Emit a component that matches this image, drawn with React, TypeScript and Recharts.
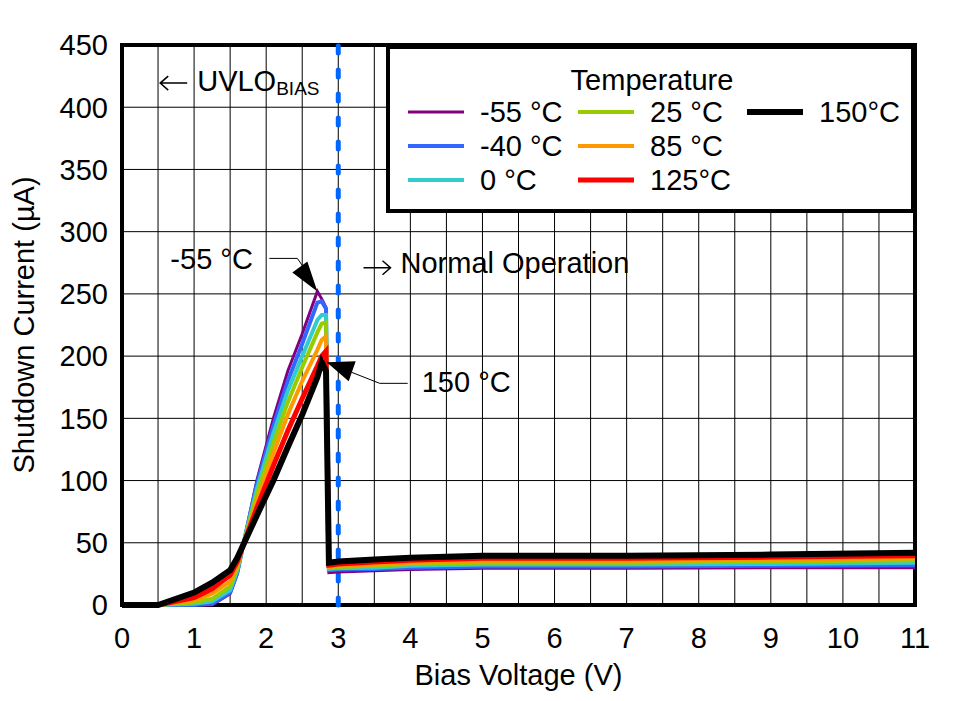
import {
  CartesianGrid,
  Legend,
  Line,
  LineChart,
  ReferenceArea,
  ReferenceDot,
  ReferenceLine,
  XAxis,
  YAxis,
} from "recharts";

// bias voltage (V) sample points shared by all curves
const voltage = [0, 0.5, 1.0, 1.25, 1.5, 1.6, 1.68, 1.87, 2.1, 2.3, 2.5, 2.71, 2.77, 2.83, 2.87, 3, 3.5, 4, 5, 7, 9, 11];

// shutdown current (uA) per temperature
const iM55 = [0, 0, 0, 0, 9, 25, 48, 100, 150, 188, 218, 252, 246, 239, 26, 26.5, 27.5, 28.5, 29.5, 29.5, 30, 30];
const iM40 = [0, 0, 0, 1, 10, 26, 48, 97, 144, 180, 210, 243, 244, 238, 28, 28.5, 29, 30, 31, 31, 31.5, 32];
const i0 = [0, 0, 1, 3, 12, 28, 48, 93, 138, 172, 200, 229, 233, 233, 29, 29.5, 30, 31.5, 32.5, 32.5, 33, 34];
const i25 = [0, 0, 2, 5, 15, 30, 48, 89, 130, 163, 191, 219, 226, 227, 30, 30.5, 31.5, 33, 34, 34, 35, 36];
const i85 = [0, 0, 4, 9, 19, 32, 48, 83, 122, 153, 180, 205, 213, 216, 30.5, 31.5, 32.5, 34, 35.5, 35.5, 36.5, 37.5];
const i125 = [0, 0, 6, 13, 24, 35, 48, 78, 112, 140, 166, 192, 200, 204, 32, 33, 34.5, 36, 37.5, 37.5, 38.5, 39.5];
const i150 = [0, 0, 10, 18, 28, 38, 48, 72, 100, 127, 153, 183, 195, 188, 34, 35, 36.5, 38, 39.5, 39.5, 40.5, 42];

const xTicks = [0, 0.5, 1, 1.5, 2, 2.5, 3, 3.5, 4, 4.5, 5, 5.5, 6, 6.5, 7, 7.5, 8, 8.5, 9, 9.5, 10, 10.5, 11];
const yTicks = [0, 50, 100, 150, 200, 250, 300, 350, 400, 450];

const series = [
  { key: "m55", name: "-55 °C", color: "#800080", width: 3, values: iM55 },
  { key: "m40", name: "-40 °C", color: "#3366FF", width: 4, values: iM40 },
  { key: "t0", name: "0 °C", color: "#33CCCC", width: 4, values: i0 },
  { key: "t25", name: "25 °C", color: "#99CC00", width: 4, values: i25 },
  { key: "t85", name: "85 °C", color: "#FF9900", width: 4, values: i85 },
  { key: "t125", name: "125°C", color: "#FF0000", width: 5, values: i125 },
  { key: "t150", name: "150°C", color: "#000000", width: 6, values: i150 },
];

const data = voltage.map((v, i) => {
  const row: Record<string, number> = { v };
  series.forEach((s) => (row[s.key] = s.values[i]));
  return row;
});

const FONT = "'Liberation Sans', Arial, sans-serif";
const FS = 29;

function TempLegend() {
  const cols = [22, 192, 361];
  const rows = [67, 101, 135];
  return (
    <svg width={529} height={168} style={{ display: "block" }}>
      <rect x={2} y={2} width={525} height={164} fill="#fff" stroke="#000" strokeWidth={4} />
      <text x={266} y={45} textAnchor="middle" fontSize={FS} fill="#000">
        Temperature
      </text>
      {series.map((s, i) => {
        const x = cols[Math.floor(i / 3)];
        const y = rows[i % 3];
        return (
          <g key={s.key}>
            <line x1={x} x2={x + 56} y1={y} y2={y} stroke={s.color} strokeWidth={s.width} />
            <text x={x + 72} y={y + 10} fontSize={FS} fill="#000">
              {s.name}
            </text>
          </g>
        );
      })}
    </svg>
  );
}

const Arrow55 = ({ cx, cy }: any) => (
  <g>
    <polyline
      points={`${cx - 48},${cy - 33} ${cx - 20},${cy - 33} ${cx - 13},${cy - 23}`}
      fill="none"
      stroke="#000"
      strokeWidth={1}
    />
    <polygon points={`${cx},${cy} ${cx - 25},${cy - 19} ${cx - 10},${cy - 30}`} fill="#000" />
    <text x={cx - 147} y={cy - 22} fontSize={FS} fill="#000">
      -55 °C
    </text>
  </g>
);

const Arrow150 = ({ cx, cy }: any) => (
  <g>
    <polyline
      points={`${cx + 30},${cy + 10} ${cx + 58},${cy + 21} ${cx + 86},${cy + 21}`}
      fill="none"
      stroke="#000"
      strokeWidth={1}
    />
    <polygon points={`${cx + 5},${cy} ${cx + 34},${cy - 1} ${cx + 27},${cy + 19}`} fill="#000" />
    <text x={cx + 100} y={cy + 30} fontSize={FS} fill="#000">
      150 °C
    </text>
  </g>
);

const UvloNote = ({ cx, cy }: any) => (
  <g>
    <path
      d={`M${cx + 27},${cy + 2} H${cx} M${cx + 8},${cy - 5} L${cx},${cy + 2} L${cx + 8},${cy + 9}`}
      fill="none"
      stroke="#000"
      strokeWidth={1.5}
    />
    <text x={cx + 37} y={cy + 10} fontSize={FS} fill="#000">
      UVLO
      <tspan fontSize={19} dy={4}>
        BIAS
      </tspan>
    </text>
  </g>
);

const NormalNote = ({ cx, cy }: any) => (
  <g>
    <path
      d={`M${cx},${cy + 5} H${cx + 27} M${cx + 19},${cy - 2} L${cx + 27},${cy + 5} L${cx + 19},${cy + 12}`}
      fill="none"
      stroke="#000"
      strokeWidth={1.5}
    />
    <text x={cx + 37} y={cy + 10} fontSize={FS} fill="#000">
      Normal Operation
    </text>
  </g>
);

export default function App() {
  return (
    <div style={{ position: "absolute", left: 0, top: 0, width: 956, height: 701, background: "#fff", fontFamily: FONT }}>
      <LineChart width={956} height={701} data={data} margin={{ top: 45, right: 41, bottom: 0, left: 0 }}>
        <CartesianGrid stroke="#000" strokeWidth={1} />
        <XAxis
          type="number"
          dataKey="v"
          domain={[0, 11]}
          ticks={xTicks}
          interval={0}
          tickFormatter={(t: number) => (Number.isInteger(t) ? String(t) : "")}
          height={96}
          axisLine={false}
          tickLine={false}
          tickSize={0}
          tickMargin={22}
          tick={{ fill: "#000", fontSize: FS }}
          label={{ value: "Bias Voltage (V)", position: "insideBottom", offset: 16, style: { fill: "#000", fontSize: FS } }}
        />
        <YAxis
          type="number"
          domain={[0, 450]}
          ticks={yTicks}
          interval={0}
          width={122}
          axisLine={false}
          tickLine={false}
          tickSize={0}
          tickMargin={14}
          tick={{ fill: "#000", fontSize: FS }}
          label={{
            value: "Shutdown Current (µA)",
            angle: -90,
            position: "insideLeft",
            offset: 24,
            style: { textAnchor: "middle", fill: "#000", fontSize: FS },
          }}
        />
        <ReferenceLine x={3} stroke="#0066FF" strokeWidth={5} strokeDasharray="7 17" strokeLinecap="round" />
        {series.map((s) => (
          <Line
            key={s.key}
            type="linear"
            dataKey={s.key}
            name={s.name}
            stroke={s.color}
            strokeWidth={s.width}
            dot={false}
            activeDot={false}
            isAnimationActive={false}
          />
        ))}
        <ReferenceArea x1={0} x2={11} y1={0} y2={450} fill="none" stroke="#000" strokeWidth={4} />
        <ReferenceDot x={2.71} y={252} r={0} shape={Arrow55} />
        <ReferenceDot x={2.77} y={195} r={0} shape={Arrow150} />
        <ReferenceDot x={0.53} y={421} r={0} shape={UvloNote} />
        <ReferenceDot x={3.35} y={275} r={0} shape={NormalNote} />
        <Legend
          layout="vertical"
          verticalAlign="middle"
          align="center"
          content={() => <TempLegend />}
          wrapperStyle={{ position: "absolute", left: 386, top: 45, width: 529, height: 168, margin: 0 }}
        />
      </LineChart>
    </div>
  );
}
